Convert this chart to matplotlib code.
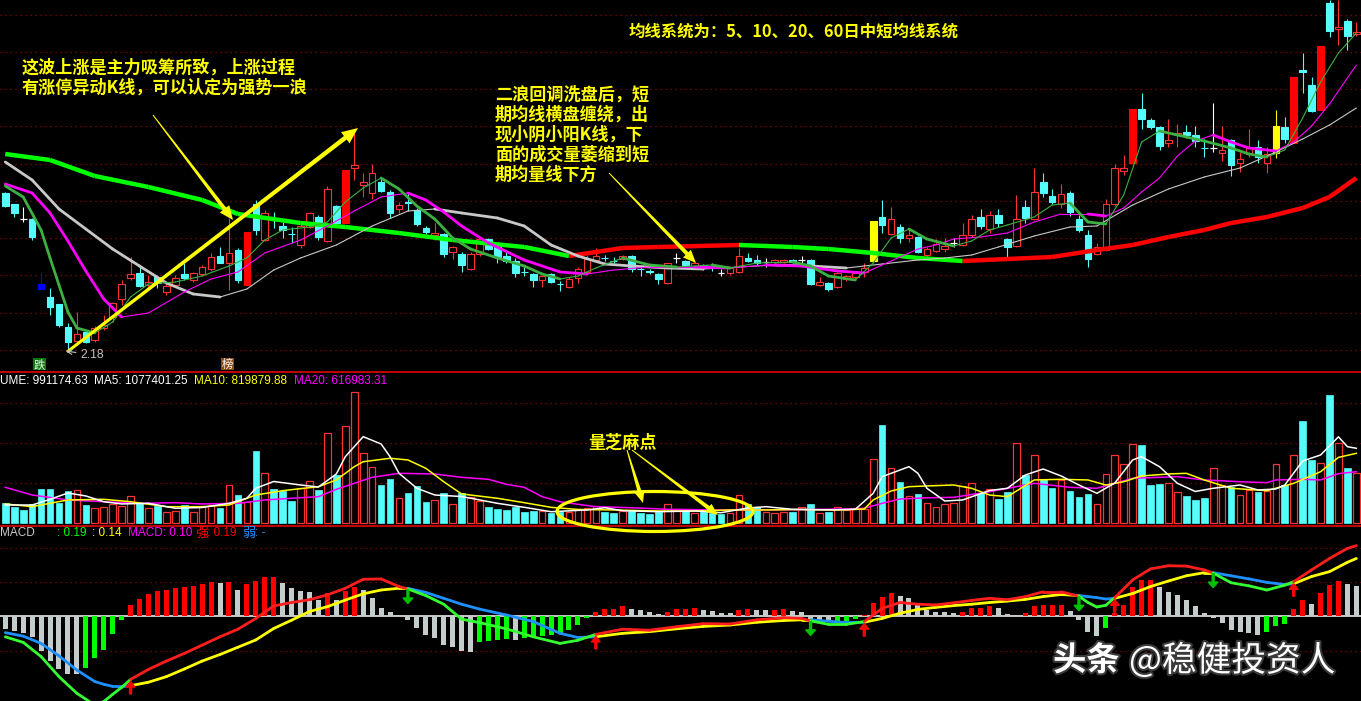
import numpy as np
import matplotlib
matplotlib.use("Agg")
import matplotlib.pyplot as plt
from matplotlib.patches import Rectangle, Ellipse, Polygon, FancyArrow
from matplotlib.collections import LineCollection
import matplotlib.patheffects as pe

plt.rcParams['font.family'] = ['Noto Sans CJK SC', 'DejaVu Sans']

# ---------------- daily bars (price) ----------------
opens = [2.975, 2.92, 2.845, 2.845, 2.52, 2.455, 2.42, 2.305, 2.235, 2.28,
         2.24, 2.30, 2.355, 2.445, 2.55, 2.575, 2.515, 2.555, 2.48, 2.515,
         2.57, 2.54, 2.57, 2.595, 2.66, 2.625, 2.69, 2.515, 2.92, 2.74,
         2.845, 2.81, 2.772, 2.715, 2.805, 2.855, 2.735, 2.91, 2.825, 3.10,
         3.015, 2.975, 3.03, 2.98, 2.895, 2.93, 2.89, 2.80, 2.765, 2.77,
         2.68, 2.67, 2.595, 2.67, 2.745, 2.705, 2.66, 2.635, 2.582, 2.57,
         2.54, 2.57, 2.522, 2.505, 2.55, 2.58, 2.64, 2.652, 2.637, 2.645,
         2.66, 2.597, 2.585, 2.57, 2.525, 2.65, 2.635, 2.605, 2.615, 2.607,
         2.575, 2.575, 2.58, 2.65, 2.64, 2.63, 2.63, 2.63, 2.64, 2.64,
         2.64, 2.515, 2.525, 2.505, 2.545, 2.555, 2.58, 2.635, 2.855, 2.77,
         2.805, 2.75, 2.755, 2.665, 2.685, 2.695, 2.725, 2.715, 2.765, 2.855,
         2.795, 2.865, 2.745, 2.71, 2.905, 2.845, 3.03, 2.96, 2.92, 2.975,
         2.845, 2.765, 2.67, 2.69, 2.92, 3.085, 3.125, 3.395, 3.34, 3.305,
         3.225, 3.265, 3.28, 3.265, 3.202, 3.20, 3.175, 3.24, 3.125, 3.17,
         3.205, 3.125, 3.175, 3.305, 3.225, 3.59, 3.515, 3.39, 3.925, 3.795,
         3.835, 3.77]
highs = [2.98, 2.92, 2.905, 2.85, 2.58, 2.50, 2.42, 2.325, 2.38, 2.285,
         2.31, 2.365, 2.43, 2.54, 2.655, 2.61, 2.565, 2.565, 2.525, 2.565,
         2.625, 2.58, 2.615, 2.675, 2.705, 2.85, 2.70, 2.78, 2.94, 2.89,
         2.88, 2.83, 2.805, 2.825, 2.88, 2.865, 3.01, 2.915, 3.09, 3.275,
         3.075, 3.12, 3.055, 2.99, 2.93, 2.98, 2.90, 2.81, 2.825, 2.775,
         2.71, 2.68, 2.68, 2.75, 2.75, 2.715, 2.68, 2.65, 2.605, 2.575,
         2.565, 2.575, 2.535, 2.555, 2.605, 2.665, 2.70, 2.665, 2.655, 2.665,
         2.665, 2.605, 2.595, 2.575, 2.625, 2.675, 2.64, 2.63, 2.62, 2.625,
         2.595, 2.605, 2.70, 2.675, 2.665, 2.65, 2.645, 2.645, 2.645, 2.66,
         2.645, 2.555, 2.53, 2.58, 2.565, 2.58, 2.625, 2.835, 2.94, 2.905,
         2.82, 2.80, 2.76, 2.705, 2.745, 2.75, 2.75, 2.825, 2.865, 2.895,
         2.885, 2.895, 2.75, 2.965, 2.94, 3.10, 3.075, 2.995, 3.02, 2.985,
         2.865, 2.79, 2.725, 2.945, 3.12, 3.165, 3.395, 3.475, 3.35, 3.31,
         3.345, 3.32, 3.315, 3.31, 3.245, 3.425, 3.31, 3.245, 3.18, 3.295,
         3.24, 3.205, 3.39, 3.355, 3.555, 3.675, 3.555, 3.71, 3.94, 3.94,
         3.845, 3.83]
lows = [2.905, 2.855, 2.83, 2.74, 2.495, 2.365, 2.305, 2.18, 2.23, 2.225,
        2.23, 2.29, 2.33, 2.415, 2.54, 2.505, 2.50, 2.50, 2.465, 2.505,
        2.54, 2.53, 2.56, 2.585, 2.625, 2.49, 2.525, 2.515, 2.765, 2.735,
        2.80, 2.75, 2.725, 2.70, 2.80, 2.74, 2.73, 2.805, 2.825, 3.04,
        2.955, 2.945, 2.98, 2.85, 2.875, 2.885, 2.81, 2.77, 2.74, 2.655,
        2.645, 2.58, 2.59, 2.66, 2.69, 2.625, 2.625, 2.555, 2.56, 2.505,
        2.505, 2.525, 2.485, 2.50, 2.525, 2.575, 2.635, 2.635, 2.625, 2.64,
        2.58, 2.56, 2.57, 2.52, 2.52, 2.625, 2.61, 2.605, 2.59, 2.585,
        2.56, 2.565, 2.575, 2.63, 2.615, 2.605, 2.625, 2.625, 2.625, 2.625,
        2.515, 2.51, 2.485, 2.50, 2.535, 2.545, 2.555, 2.635, 2.775, 2.765,
        2.725, 2.73, 2.675, 2.65, 2.68, 2.68, 2.705, 2.71, 2.755, 2.795,
        2.775, 2.805, 2.655, 2.705, 2.825, 2.84, 2.955, 2.92, 2.90, 2.86,
        2.78, 2.605, 2.665, 2.685, 2.91, 3.065, 3.105, 3.295, 3.295, 3.19,
        3.205, 3.205, 3.25, 3.205, 3.155, 3.18, 3.135, 3.06, 3.08, 3.155,
        3.125, 3.075, 3.15, 3.225, 3.225, 3.475, 3.38, 3.39, 3.755, 3.715,
        3.69, 3.76]
closes = [2.91, 2.875, 2.845, 2.755, 2.495, 2.405, 2.315, 2.23, 2.27, 2.23,
          2.30, 2.315, 2.425, 2.52, 2.57, 2.51, 2.53, 2.525, 2.51, 2.55,
          2.55, 2.575, 2.605, 2.655, 2.625, 2.675, 2.54, 2.78, 2.79, 2.875,
          2.84, 2.79, 2.768, 2.81, 2.875, 2.755, 2.995, 2.825, 3.09, 3.115,
          3.03, 3.075, 2.985, 2.875, 2.915, 2.925, 2.82, 2.78, 2.775, 2.67,
          2.705, 2.615, 2.67, 2.745, 2.695, 2.655, 2.635, 2.575, 2.578, 2.54,
          2.56, 2.53, 2.518, 2.545, 2.595, 2.645, 2.66, 2.648, 2.633, 2.66,
          2.595, 2.593, 2.58, 2.545, 2.625, 2.65, 2.615, 2.625, 2.60, 2.603,
          2.575, 2.60, 2.66, 2.635, 2.625, 2.63, 2.64, 2.64, 2.63, 2.64,
          2.52, 2.53, 2.495, 2.575, 2.56, 2.575, 2.60, 2.835, 2.815, 2.845,
          2.75, 2.765, 2.68, 2.695, 2.72, 2.71, 2.725, 2.765, 2.845, 2.81,
          2.865, 2.825, 2.705, 2.845, 2.85, 2.98, 2.975, 2.93, 2.97, 2.88,
          2.79, 2.645, 2.705, 2.92, 3.10, 3.10, 3.395, 3.345, 3.305, 3.21,
          3.24, 3.275, 3.265, 3.235, 3.198, 3.20, 3.19, 3.115, 3.145, 3.20,
          3.155, 3.17, 3.31, 3.245, 3.555, 3.58, 3.385, 3.71, 3.785, 3.805,
          3.76, 3.78]
volumes = [246000, 196000, 163000, 238000, 425000, 425000, 254000, 400000, 413000, 225000,
           184000, 196000, 238000, 213000, 334000, 254000, 188000, 213000, 134000, 150000,
           225000, 134000, 213000, 225000, 191000, 471000, 350000, 266000, 900000, 621000,
           425000, 400000, 275000, 434000, 525000, 413000, 1121000, 600000, 1213000, 1634000,
           871000, 696000, 475000, 550000, 309000, 375000, 463000, 263000, 288000, 375000,
           238000, 371000, 329000, 275000, 204000, 175000, 163000, 204000, 138000, 154000,
           146000, 129000, 141000, 134000, 171000, 184000, 209000, 138000, 125000, 150000,
           150000, 129000, 113000, 138000, 234000, 171000, 146000, 121000, 141000, 121000,
           113000, 121000, 346000, 234000, 204000, 138000, 121000, 141000, 141000, 196000,
           238000, 121000, 138000, 204000, 163000, 171000, 179000, 796000, 1225000, 684000,
           513000, 334000, 363000, 246000, 196000, 234000, 254000, 466000, 496000, 379000,
           421000, 300000, 388000, 996000, 600000, 846000, 550000, 438000, 538000, 400000,
           325000, 363000, 234000, 609000, 846000, 734000, 984000, 975000, 475000, 488000,
           496000, 384000, 338000, 288000, 313000, 684000, 475000, 446000, 346000, 409000,
           388000, 404000, 734000, 475000, 846000, 1275000, 788000, 746000, 1600000, 996000,
           688000, 629000]
limit_up_days = [27, 38, 126, 144, 147]
highlight_days = [97, 142]
blue_days = [4]

# ---------------- price moving averages (read at sample days) ----------------
ma5_idx = [0, 2, 4, 5, 6, 7, 8, 10, 12, 14, 16, 19, 22, 25, 27, 29, 31, 34, 36, 38,
           40, 42, 44, 46, 48, 50, 52, 55, 58, 60, 62, 64, 66, 69, 72, 75, 79, 81, 84, 88,
           90, 92, 95, 97, 99, 101, 103, 106, 108, 110, 112, 115, 117, 119, 121, 123, 125, 127, 129, 131,
           134, 137, 139, 141, 143, 145, 147, 149, 151]
ma5 = [3.01, 2.955, 2.79, 2.65, 2.515, 2.38, 2.30, 2.275, 2.33, 2.455, 2.52, 2.53, 2.56, 2.61, 2.65, 2.74, 2.79, 2.805, 2.83, 2.93,
       3.00, 3.05, 2.995, 2.91, 2.845, 2.75, 2.695, 2.65, 2.61, 2.57, 2.545, 2.56, 2.60, 2.65, 2.615, 2.605, 2.615, 2.60, 2.625, 2.63,
       2.61, 2.56, 2.54, 2.625, 2.75, 2.795, 2.745, 2.71, 2.735, 2.79, 2.815, 2.855, 2.915, 2.925, 2.83, 2.82, 2.965, 3.23, 3.285, 3.265,
       3.235, 3.20, 3.17, 3.155, 3.19, 3.35, 3.53, 3.675, 3.775]
ma10_idx = [0, 3, 5, 7, 9, 11, 13, 16, 20, 23, 26, 29, 33, 36, 39, 42, 45, 47, 49, 51,
            54, 58, 62, 65, 68, 72, 77, 81, 85, 89, 93, 96, 98, 100, 102, 104, 106, 109, 112, 115,
            118, 121, 123, 125, 127, 129, 131, 133, 135, 137, 139, 142, 144, 146, 148, 151]
ma10 = [3.02, 2.975, 2.875, 2.735, 2.585, 2.445, 2.355, 2.375, 2.48, 2.545, 2.58, 2.675, 2.74, 2.81, 2.885, 2.955, 2.975, 2.94, 2.88, 2.81,
        2.725, 2.64, 2.58, 2.57, 2.59, 2.605, 2.605, 2.60, 2.615, 2.61, 2.585, 2.575, 2.615, 2.655, 2.695, 2.715, 2.745, 2.755, 2.775, 2.83,
        2.87, 2.87, 2.86, 2.90, 2.98, 3.05, 3.16, 3.235, 3.265, 3.23, 3.20, 3.185, 3.23, 3.31, 3.42, 3.615]
ma20_idx = [0, 3, 6, 9, 12, 15, 18, 21, 24, 27, 30, 33, 37, 41, 45, 48, 51, 55, 58, 61,
            64, 67, 70, 74, 78, 82, 86, 90, 94, 98, 102, 105, 108, 111, 115, 119, 122, 126, 130, 134,
            138, 142, 145, 148, 151]
ma20 = [3.13, 3.04, 2.895, 2.795, 2.695, 2.61, 2.525, 2.47, 2.455, 2.495, 2.59, 2.65, 2.715, 2.81, 2.885, 2.895, 2.875, 2.85, 2.81, 2.715,
        2.66, 2.62, 2.61, 2.60, 2.595, 2.605, 2.615, 2.61, 2.60, 2.62, 2.64, 2.65, 2.665, 2.705, 2.76, 2.805, 2.81, 2.915, 2.995, 3.055,
        3.10, 3.18, 3.245, 3.315, 3.40]
ma60_idx = [0, 5, 10, 16, 22, 26, 33, 38, 44, 50, 58, 63, 69, 73, 82, 88, 92, 97, 102, 107,
            112, 117, 122, 126, 130, 134, 137, 141, 145, 148, 151]
ma60 = [3.17, 3.14, 3.06, 3.005, 2.94, 2.87, 2.825, 2.805, 2.775, 2.74, 2.705, 2.66, 2.70, 2.705, 2.715, 2.705, 2.695, 2.675, 2.65, 2.635,
        2.645, 2.655, 2.69, 2.715, 2.755, 2.79, 2.825, 2.855, 2.90, 2.955, 3.05]

# ---------------- volume moving averages ----------------
vma5_idx = [0, 3, 5, 7, 9, 11, 13, 16, 19, 22, 25, 27, 28, 30, 33, 35, 37, 38, 40, 42,
            43, 44, 46, 48, 51, 55, 58, 61, 65, 67, 69, 73, 77, 80, 83, 85, 88, 92, 95, 97,
            98, 101, 102, 103, 105, 107, 110, 112, 114, 116, 118, 120, 122, 124, 126, 127, 129, 131, 133, 135,
            138, 140, 142, 143, 145, 147, 149, 150, 151]
vma5 = [225000, 225000, 296000, 375000, 338000, 266000, 238000, 246000, 184000, 194000,
        246000, 309000, 434000, 519000, 475000, 450000, 613000, 829000, 1079000, 988000,
        829000, 621000, 434000, 350000, 331000, 246000, 196000, 141000, 163000, 191000,
        154000, 141000, 150000, 129000, 188000, 204000, 171000, 163000, 171000, 371000,
        579000, 704000, 621000, 434000, 275000, 288000, 406000, 434000, 600000, 675000,
        588000, 475000, 371000, 500000, 788000, 829000, 704000, 496000, 394000, 434000,
        475000, 413000, 425000, 475000, 775000, 850000, 1077000, 954000, 934000]
vma10_idx = [0, 3, 7, 11, 14, 18, 22, 25, 28, 31, 35, 37, 39, 40, 43, 45, 47, 49, 51, 55,
             58, 61, 64, 68, 73, 77, 81, 85, 89, 93, 96, 97, 99, 101, 103, 106, 108, 110, 112, 115,
             118, 121, 123, 125, 127, 130, 132, 134, 137, 141, 144, 147, 149, 151]
vma10 = [238000, 204000, 288000, 296000, 266000, 204000, 204000, 225000, 350000, 404000,
         454000, 538000, 704000, 766000, 809000, 788000, 684000, 516000, 363000, 309000,
         254000, 196000, 169000, 163000, 150000, 150000, 163000, 163000, 169000, 163000,
         175000, 288000, 400000, 454000, 463000, 475000, 434000, 350000, 329000, 538000,
         546000, 538000, 475000, 516000, 588000, 613000, 621000, 538000, 434000, 404000,
         496000, 641000, 820000, 871000]
vma20_idx = [0, 3, 7, 11, 15, 19, 22, 26, 29, 33, 35, 37, 39, 41, 44, 48, 51, 54, 56, 58,
             60, 62, 64, 66, 70, 74, 80, 86, 90, 94, 96, 98, 100, 103, 106, 110, 115, 119, 122, 126,
             131, 134, 138, 141, 142, 145, 147, 149, 151]
vma20 = [446000, 350000, 288000, 266000, 246000, 254000, 238000, 246000, 288000, 316000,
         329000, 421000, 496000, 571000, 621000, 613000, 571000, 546000, 484000, 446000,
         329000, 266000, 234000, 204000, 191000, 171000, 163000, 163000, 169000, 175000,
         184000, 246000, 300000, 315000, 321000, 391000, 496000, 446000, 434000, 559000,
         579000, 538000, 516000, 504000, 538000, 546000, 538000, 617000, 641000]

# ---------------- MACD ----------------
macd_hist = [-0.038, -0.044, -0.051, -0.061, -0.102, -0.131, -0.154, -0.167, -0.168, -0.150,
             -0.123, -0.099, -0.054, -0.013, 0.031, 0.048, 0.062, 0.071, 0.074, 0.079,
             0.083, 0.085, 0.091, 0.096, 0.093, 0.097, 0.074, 0.091, 0.100, 0.111,
             0.112, 0.093, 0.079, 0.071, 0.067, 0.045, 0.064, 0.045, 0.071, 0.084,
             0.074, 0.050, 0.021, 0.010, 0.002, -0.013, -0.035, -0.056, -0.065, -0.085,
             -0.089, -0.102, -0.104, -0.077, -0.073, -0.070, -0.067, -0.070, -0.063, -0.061,
             -0.060, -0.056, -0.054, -0.041, -0.027, -0.006, 0.010, 0.019, 0.020, 0.028,
             0.019, 0.016, 0.010, 0.005, 0.010, 0.019, 0.020, 0.021, 0.016, 0.013,
             0.008, 0.007, 0.016, 0.019, 0.017, 0.016, 0.017, 0.018, 0.013, 0.010,
             -0.010, -0.013, -0.017, -0.016, -0.014, -0.010, 0.002, 0.037, 0.054, 0.065,
             0.058, 0.050, 0.031, 0.016, 0.012, 0.010, 0.007, 0.010, 0.021, 0.023,
             0.028, 0.021, 0.004, 0.002, 0.007, 0.028, 0.032, 0.032, 0.032, 0.013,
             -0.013, -0.046, -0.058, -0.035, 0.007, 0.031, 0.083, 0.103, 0.104, 0.084,
             0.067, 0.060, 0.045, 0.028, 0.007, -0.008, -0.020, -0.041, -0.048, -0.049,
             -0.056, -0.048, -0.029, -0.025, 0.019, 0.045, 0.034, 0.064, 0.088, 0.100,
             0.090, 0.086]
macd_idx = [0, 2, 4, 6, 8, 10, 11, 12, 13, 14, 16, 18, 20, 22, 24, 26, 28, 30, 32, 34,
            36, 38, 40, 42, 44, 45, 47, 49, 51, 53, 56, 59, 62, 64, 66, 69, 72, 75, 78, 81,
            84, 87, 89, 90, 92, 94, 96, 98, 100, 102, 104, 106, 108, 110, 112, 114, 116, 118, 120, 121,
            122, 123, 124, 126, 128, 130, 132, 134, 135, 137, 139, 141, 143, 144, 146, 148, 150, 151]
dif = [-0.061, -0.077, -0.118, -0.176, -0.224, -0.258, -0.248, -0.227, -0.207, -0.184,
       -0.155, -0.131, -0.109, -0.085, -0.061, -0.039, -0.008, 0.028, 0.038, 0.046,
       0.060, 0.079, 0.105, 0.106, 0.084, 0.077, 0.058, 0.033, -0.010, -0.020,
       -0.038, -0.061, -0.080, -0.071, -0.054, -0.039, -0.042, -0.032, -0.023, -0.024,
       -0.012, -0.006, -0.008, -0.015, -0.025, -0.025, -0.017, 0.021, 0.038, 0.033,
       0.031, 0.037, 0.044, 0.050, 0.046, 0.055, 0.069, 0.069, 0.056, 0.038,
       0.025, 0.030, 0.052, 0.103, 0.135, 0.144, 0.143, 0.132, 0.123, 0.095,
       0.086, 0.074, 0.088, 0.098, 0.132, 0.165, 0.194, 0.202]
dea = [-0.049, -0.059, -0.080, -0.116, -0.157, -0.190, -0.198, -0.204, -0.205, -0.202,
       -0.192, -0.176, -0.154, -0.131, -0.112, -0.091, -0.070, -0.037, -0.013, 0.012,
       0.026, 0.045, 0.063, 0.074, 0.079, 0.079, 0.067, 0.050, 0.033, 0.019,
       0.002, -0.017, -0.051, -0.063, -0.061, -0.051, -0.046, -0.038, -0.031, -0.027,
       -0.019, -0.014, -0.012, -0.012, -0.016, -0.020, -0.019, -0.008, 0.007, 0.018,
       0.024, 0.029, 0.033, 0.038, 0.042, 0.047, 0.055, 0.061, 0.058, 0.055,
       0.052, 0.048, 0.050, 0.064, 0.084, 0.100, 0.115, 0.124, 0.124, 0.115,
       0.106, 0.096, 0.090, 0.092, 0.113, 0.127, 0.154, 0.165]

# ---------------- figure layout (pixel based) ----------------
W, H = 1361, 701
fig = plt.figure(figsize=(W / 100, H / 100), dpi=100, facecolor='black')
XLIM = (-0.592, 151.52)


def band(top, bottom):
    ax = fig.add_axes([0, 1 - bottom / H, 1, (bottom - top) / H])
    ax.set_axis_off()
    ax.set_xlim(*XLIM)
    return ax


ax_bg = fig.add_axes([0, 0, 1, 1])
ax_bg.set_axis_off()
ax_bg.set_xlim(0, W)
ax_bg.set_ylim(H, 0)

ax_p = band(0, 371)
ax_p.set_ylim(2.085, 3.94)
ax_v = band(373, 525)
ax_v.set_ylim(-25000, 1875000)
ax_m = band(526, 701)
ax_m.set_ylim(-0.2462, 0.2587)

ax_o = fig.add_axes([0, 0, 1, 1])
ax_o.set_axis_off()
ax_o.set_xlim(0, W)
ax_o.set_ylim(H, 0)

GRID = '#8c0808'
dot = (0, (1, 3))
for k in range(10):
    y = 14.7 + 37.25 * k
    ax_bg.plot([0, W], [y, y], color=GRID, lw=0.9, ls=dot)
for y in (403, 443, 483, 548.3, 582.3, 651):
    ax_bg.plot([0, W], [y, y], color=GRID, lw=0.9, ls=dot)
for y in (372, 525.5):
    ax_bg.plot([0, W], [y, y], color='#c40000', lw=1.4)

# ---------------- candles ----------------
UP = '#ff3232'
DOWN = '#54fcfc'
n = len(closes)
BW = 0.74
for i in range(n):
    o, h, l, c = opens[i], highs[i], lows[i], closes[i]
    if i in blue_days:
        col, fill = '#0000ff', True
    elif i in highlight_days:
        col, fill = '#ffff00', True
    elif i in limit_up_days:
        col, fill = '#ff0000', True
    elif c > o:
        col, fill = UP, False
    elif c < o:
        col, fill = DOWN, True
    else:
        col, fill = '#ffffff', None
    ax_p.vlines(i, l, h, color=col, lw=0.8, zorder=2)
    if fill is None:
        ax_p.hlines(c, i - BW / 2, i + BW / 2, color=col, lw=0.9, zorder=3)
    else:
        ax_p.add_patch(Rectangle((i - BW / 2, min(o, c)), BW, max(abs(c - o), 0.0015),
                                 facecolor=col if fill else 'black', edgecolor=col,
                                 lw=0.8, zorder=3))

# ---------------- volume bars ----------------
for i in range(n):
    up = closes[i] > opens[i] or (closes[i] == opens[i] and (i == 0 or closes[i] >= closes[i - 1]))
    if up:
        ax_v.add_patch(Rectangle((i - BW / 2, 0), BW, volumes[i], facecolor='black',
                                 edgecolor=UP, lw=0.9, zorder=2))
    else:
        ax_v.add_patch(Rectangle((i - BW / 2, 0), BW, volumes[i], facecolor=DOWN,
                                 edgecolor=DOWN, lw=0.5, zorder=2))


def ma_line(ax, idx, vals, color, thin, thick, z):
    idx = np.asarray(idx, float)
    vals = np.asarray(vals, float)
    segs = [[(idx[k], vals[k]), (idx[k + 1], vals[k + 1])] for k in range(len(idx) - 1)]
    lws = [thick if vals[k + 1] < vals[k] else thin for k in range(len(idx) - 1)]
    ax.add_collection(LineCollection(segs, colors=color, linewidths=lws, zorder=z,
                                     capstyle='round', joinstyle='round'))


# MA60: thick, red when rising, green when falling
i60 = np.asarray(ma60_idx, float)
v60 = np.asarray(ma60, float)
segs = [[(i60[k], v60[k]), (i60[k + 1], v60[k + 1])] for k in range(len(i60) - 1)]
cols = ['#ff0000' if v60[k + 1] >= v60[k] else '#00ff00' for k in range(len(i60) - 1)]
ax_p.add_collection(LineCollection(segs, colors=cols, linewidths=3.2, zorder=4, capstyle='butt'))
ma_line(ax_p, ma20_idx, ma20, '#c8c8c8', 0.8, 2.0, 5)
ma_line(ax_p, ma10_idx, ma10, '#ff00ff', 0.8, 2.0, 5)
ma_line(ax_p, ma5_idx, ma5, '#3cb043', 0.8, 2.0, 6)

ax_v.plot(vma20_idx, vma20, color='#ff00ff', lw=1.1, zorder=4)
ax_v.plot(vma10_idx, vma10, color='#ffff00', lw=1.1, zorder=4)
ax_v.plot(vma5_idx, vma5, color='#ffffff', lw=1.1, zorder=5)

# ---------------- MACD ----------------
ax_m.axhline(0, color='white', lw=1.1, zorder=1)
for i in range(n):
    v = macd_hist[i]
    prev = macd_hist[i - 1] if i > 0 else v
    if v >= 0 and v >= prev:
        col = '#ff0000'
    elif v < 0 and v > prev:
        col = '#00ff00'
    else:
        col = '#c4cccc'
    ax_m.bar(i, v, width=0.56, color=col, zorder=2)

mi = np.asarray(macd_idx, float)
d = np.asarray(dif, float)
e = np.asarray(dea, float)
pos = d > e
seg_d = [[(mi[k], d[k]), (mi[k + 1], d[k + 1])] for k in range(len(mi) - 1)]
seg_e = [[(mi[k], e[k]), (mi[k + 1], e[k + 1])] for k in range(len(mi) - 1)]
ax_m.add_collection(LineCollection(seg_e, colors=['#ffff00' if p else '#1e90ff' for p in pos[:-1]],
                                   linewidths=2.0, zorder=3, capstyle='round'))
ax_m.add_collection(LineCollection(seg_d, colors=['#ff1e1e' if p else '#33ff33' for p in pos[:-1]],
                                   linewidths=2.0, zorder=4, capstyle='round'))
for k in range(1, len(mi)):
    if pos[k] and not pos[k - 1]:
        ax_m.add_patch(FancyArrow(mi[k], d[k] - 0.042, 0, 0.036, width=0.22, head_width=1.0,
                                  head_length=0.016, length_includes_head=True,
                                  color='#ff0000', zorder=5))
    elif not pos[k] and pos[k - 1]:
        ax_m.add_patch(FancyArrow(mi[k], d[k] - 0.002, 0, -0.040, width=0.22, head_width=1.1,
                                  head_length=0.016, length_includes_head=True,
                                  color='#00c000', zorder=5))

# ---------------- annotations (pixel overlay) ----------------
YEL = '#ffff00'


def taper_arrow(x0, y0, x1, y1, w0, w1, hw, hl, color=YEL):
    dx, dy = x1 - x0, y1 - y0
    L = np.hypot(dx, dy)
    ux, uy = dx / L, dy / L
    px, py = -uy, ux
    bx, by = x1 - ux * hl, y1 - uy * hl
    pts = [(x0 + px * w0 / 2, y0 + py * w0 / 2), (bx + px * w1 / 2, by + py * w1 / 2),
           (bx + px * hw / 2, by + py * hw / 2), (x1, y1),
           (bx - px * hw / 2, by - py * hw / 2), (bx - px * w1 / 2, by - py * w1 / 2),
           (x0 - px * w0 / 2, y0 - py * w0 / 2)]
    ax_o.add_patch(Polygon(pts, closed=True, facecolor=color, edgecolor='none', zorder=10))


taper_arrow(153, 115, 233, 220, 1, 4, 12, 14)
taper_arrow(67, 352, 358, 128, 3, 4.5, 14, 16)
taper_arrow(609, 173, 696, 263, 1, 4, 11, 13)
taper_arrow(627, 450, 643, 503, 1, 4, 10, 12)
taper_arrow(632, 450, 718, 515, 1, 4, 10, 12)
ax_o.add_patch(Ellipse((655, 511.5), 196, 40, fill=False, edgecolor=YEL, lw=2.3, zorder=10))

cjk_bold = dict(color=YEL, fontsize=12.3, fontweight='bold', va='center', ha='left', zorder=11)
ax_o.text(22, 68, '这波上涨是主力吸筹所致，上涨过程', **cjk_bold)
ax_o.text(22, 88, '有涨停异动K线，可以认定为强势一浪', **cjk_bold)
for k, line in enumerate(['二浪回调洗盘后，短', '期均线横盘缠绕，出', '现小阴小阳K线，下',
                          '面的成交量萎缩到短', '期均量线下方']):
    ax_o.text(495, 94.5 + 20 * k, line, **cjk_bold)
ax_o.text(588, 443, '量芝麻点', **cjk_bold)
ax_o.text(629, 32, '均线系统为：5、10、20、60日中短均线系统', color=YEL, fontsize=11.8,
          fontweight='bold', va='center', ha='left', zorder=11)

lat = ['Liberation Sans', 'Noto Sans CJK SC', 'DejaVu Sans']
hdr = dict(fontsize=8.5, va='center', ha='left', family=lat, zorder=11)
ax_o.text(0, 381, 'UME: 991174.63', color='#ffffff', **hdr)
ax_o.text(94, 381, 'MA5: 1077401.25', color='#ffffff', **hdr)
ax_o.text(194, 381, 'MA10: 819879.88', color='#ffff00', **hdr)
ax_o.text(294, 381, 'MA20: 616983.31', color='#ff00ff', **hdr)

ax_o.text(0, 533.5, 'MACD', color='#c8c8c8', **hdr)
ax_o.text(57, 533.5, ': 0.19', color='#00ff00', **hdr)
ax_o.text(92, 533.5, ': 0.14', color='#ffff00', **hdr)
ax_o.text(128, 533.5, 'MACD: 0.10', color='#ff00ff', **hdr)
ax_o.text(195, 533.5, '强', color='#ff0000', fontsize=9.5, va='center', ha='left', zorder=11)
ax_o.text(207, 533.5, ': 0.19', color='#ff0000', **hdr)
ax_o.text(242, 533.5, '弱', color='#1e90ff', fontsize=9.5, va='center', ha='left', zorder=11)
ax_o.text(255, 533.5, ': -', color='#1e90ff', **hdr)

# low price mark
ax_o.annotate('2.18', xy=(66, 351), xytext=(80, 355), color='#c0c0c0', fontsize=8.8,
              family=lat, va='center', ha='left', zorder=11,
              arrowprops=dict(arrowstyle='->', color='#c0c0c0', lw=0.8, shrinkA=1, shrinkB=0))

# event tags
for x0, label, bg in ((33, '跌', '#0a7a0a'), (221, '榜', '#8b4c1a')):
    ax_o.add_patch(Rectangle((x0, 358), 13, 12, facecolor=bg, edgecolor='none', zorder=10))
    ax_o.text(x0 + 6.5, 364.5, label, color='#f0f0f0', fontsize=8.2, ha='center', va='center', zorder=11)

# watermark
wm = [pe.withStroke(linewidth=3, foreground='#3a3a3a')]
ax_o.text(1053, 661, '头条', color='white', fontsize=24, fontweight='bold', va='center', ha='left',
          zorder=12, path_effects=wm)
ax_o.text(1129, 661, '@稳健投资人', color='white', fontsize=25, va='center', ha='left',
          zorder=12, path_effects=wm)

fig.savefig('out.png', dpi=100, facecolor='black')
